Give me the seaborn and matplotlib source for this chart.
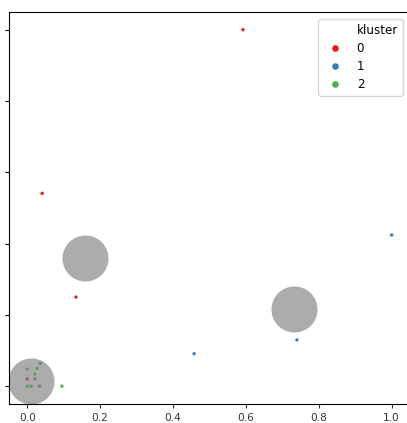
import numpy as np
import pandas as pd
import matplotlib
matplotlib.use('Agg')
import matplotlib.pyplot as plt
from matplotlib.lines import Line2D
import seaborn as sns

# data points
x_vals = [0.592, 0.041, 0.134, 0.0,
          1.0, 0.458, 0.740,
          0.0, 0.027, 0.036, 0.021, 0.021, 0.0, 0.011, 0.034, 0.095]
y_vals = [1.0, 0.541, 0.250, 0.020,
          0.424, 0.091, 0.130,
          0.048, 0.050, 0.064, 0.034, 0.020, 0.0, 0.0, 0.0, 0.0]
kluster = [0, 0, 0, 0,
           1, 1, 1,
           2, 2, 2, 2, 2, 2, 2, 2, 2]

# cluster centres (grey circles)
center_x = [0.159, 0.732, 0.011]
center_y = [0.359, 0.217, 0.015]

df = pd.DataFrame({'x': x_vals, 'y': y_vals, 'kluster': kluster})

fig = plt.figure(figsize=(4.07, 4.23), dpi=100)
ax = fig.add_axes([0.0221, 0.0449, 0.985, 0.927])

sns.scatterplot(data=df, x='x', y='y', hue='kluster', palette='Set1',
                s=7, ax=ax)
ax.scatter(center_x, center_y, c='gray', s=1100, alpha=0.65, linewidths=0)

ax.set_xlim(-0.05, 1.05)
ax.set_ylim(-0.05, 1.05)
ax.set_xlabel('')
ax.set_ylabel('')
ax.set_xticks([0.0, 0.2, 0.4, 0.6, 0.8, 1.0])
ax.set_yticks([0.0, 0.2, 0.4, 0.6, 0.8, 1.0])
ax.set_yticklabels([])
ax.tick_params(axis='x', labelsize=7.6, colors='#333333', length=3)
ax.tick_params(axis='y', length=3)
ax.spines['right'].set_visible(False)

# old-style seaborn legend: "kluster" as a blank entry on top
handles, labels = ax.get_legend_handles_labels()
blank = Line2D([], [], linestyle='', marker='')
for h in handles:
    h.set_markersize(5)
    h.set_markeredgecolor('white')
leg = ax.legend([blank] + handles, ['kluster'] + labels, loc='upper right',
                fontsize=8.6, labelspacing=0.42, borderaxespad=0.6)

fig.savefig('out.png', dpi=100)
